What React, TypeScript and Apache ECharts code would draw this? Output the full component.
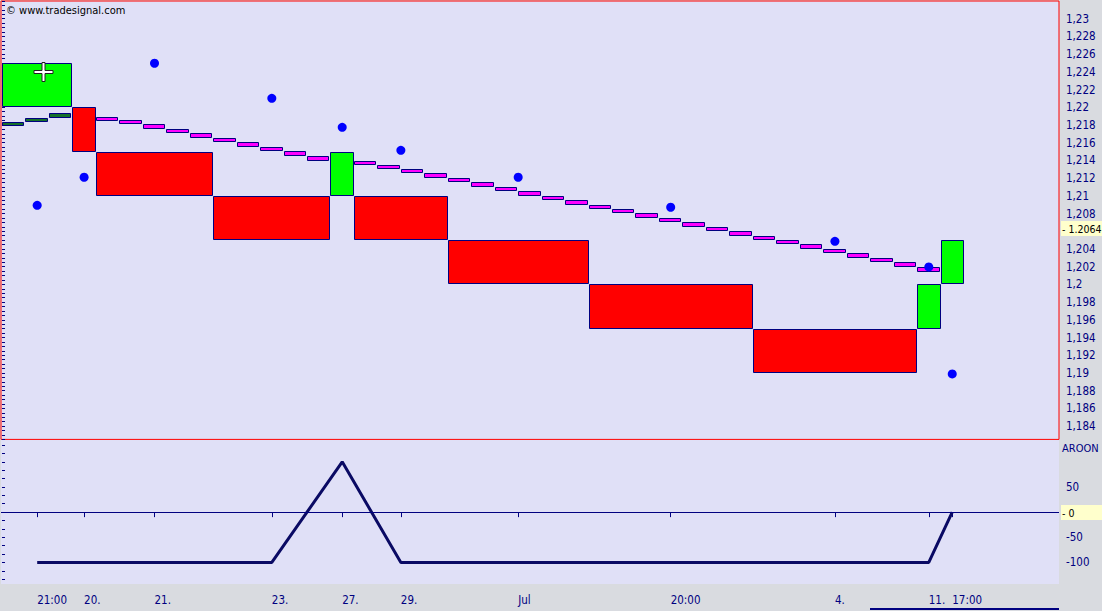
import React, { useEffect, useRef } from "react";
import * as echarts from "echarts";

// ---- Data ----
const renkoStart = [0, 3, 4, 9, 14, 15, 19, 25, 32, 39, 40];
const renkoEnd = [3, 4, 9, 14, 15, 19, 25, 32, 39, 40, 41];
const renkoOpen = [1.22, 1.22, 1.215, 1.21, 1.21, 1.21, 1.205, 1.2, 1.195, 1.195, 1.2];
const renkoClose = [1.225, 1.215, 1.21, 1.205, 1.215, 1.205, 1.2, 1.195, 1.19, 1.2, 1.205];
const dotValues = [1.20893, 1.2121, 1.22497, 1.22101, 1.21774, 1.21514, 1.2121, 1.20871, 1.20487, 1.20197, 1.18989];
const aroonValues = [-100, -100, -100, -100, 100, -100, -100, -100, -100, -100, 0];
const timeLabels = ["21:00", "20.", "21.", "23.", "27.", "29.", "Jul", "20:00", "4.", "11.", "17:00"];
const maStart = 1.21806;
const maValues = [
  1.21845, 1.2189, 1.21943, 1.21902, 1.21864, 1.21819, 1.21763, 1.21718, 1.21661, 1.21616,
  1.2156, 1.21514, 1.21458, 1.21401, 1.214, 1.21356, 1.21311, 1.21266, 1.2121, 1.21164,
  1.21108, 1.21063, 1.21006, 1.20961, 1.20905, 1.2086, 1.20814, 1.20758, 1.20713, 1.20656,
  1.20611, 1.20555, 1.2051, 1.20464, 1.20408, 1.20363, 1.20306, 1.20261, 1.20205, 1.20148,
  1.20106,
];
// 1,206 is hidden behind the current-price marker in the reference
const priceLabels = [
  1.184, 1.186, 1.188, 1.19, 1.192, 1.194, 1.196, 1.198, 1.2, 1.202, 1.204,
  1.208, 1.21, 1.212, 1.214, 1.216, 1.218, 1.22, 1.222, 1.224, 1.226, 1.228, 1.23,
];
// 0 is shown by the current-value marker
const aroonLabels = [-100, -50, 50];
const aroonTicks = [
  -133.33, -116.67, -100, -83.33, -66.67, -50, -33.33, -16.67, 0, 16.67, 33.33, 50,
  66.67, 83.33, 100, 116.67, 133.33,
];
const lastPrice = 1.2064;

// ---- Layout / style ----
const X_MIN = -0.0426;
const X_MAX = 45.05;
const FONT = "'Liberation Sans Narrow', 'DejaVu Sans Condensed', 'Liberation Sans', sans-serif";
const FS = 11.5;
const NAVY = "#000080";
const LAVENDER = "#E0E0F7";
const GRAY = "#D9DBE0";

const centers = renkoStart.map((s, i) => (s + renkoEnd[i]) / 2);

export default function App() {
  const ref = useRef<HTMLDivElement>(null);

  useEffect(() => {
    document.body.style.margin = "0";
    if (!ref.current) return;
    const chart = echarts.init(ref.current, undefined, { renderer: "svg" });

    const maData = maValues.map((v, i) => [i, i === 0 ? maStart : maValues[i - 1], v]);
    const renkoData = renkoStart.map((s, i) => [s, renkoEnd[i], renkoOpen[i], renkoClose[i]]);
    const dotData = centers.map((c, i) => [c, dotValues[i]]);
    const aroonData = centers.map((c, i) => [c, aroonValues[i]]);

    const labelFor = (v: number) => {
      let best = 0;
      let bd = Infinity;
      centers.forEach((c, i) => {
        const d = Math.abs(c - v);
        if (d < bd) {
          bd = d;
          best = i;
        }
      });
      return timeLabels[best];
    };

    const highlight = (text: (v: number) => string) => (params: any, api: any) => {
      const p = api.coord([api.value(0), api.value(1)]);
      const y = Math.round(p[1]);
      return {
        type: "group",
        children: [
          {
            type: "rect",
            shape: { x: Math.round(p[0]) + 2, y: y - 7, width: 44, height: 15 },
            style: { fill: "#FFFFCC" },
          },
          {
            type: "text",
            x: Math.round(p[0]) + 3,
            y: y + 0.5,
            style: {
              text: text(api.value(1)),
              fill: "#000000",
              fontSize: 10.5,
              fontFamily: FONT,
              verticalAlign: "middle",
              align: "left",
            },
          },
        ],
      };
    };

    const option: any = {
      animation: false,
      backgroundColor: GRAY,
      grid: [
        {
          left: 1,
          top: 1,
          width: 1058,
          height: 438.4,
          show: true,
          backgroundColor: LAVENDER,
          borderColor: "#FF0000",
          borderWidth: 1,
        },
        {
          left: 1,
          top: 440,
          width: 1058,
          height: 144,
          show: true,
          backgroundColor: LAVENDER,
          borderWidth: 0,
        },
      ],
      xAxis: [
        {
          type: "value",
          gridIndex: 0,
          min: X_MIN,
          max: X_MAX,
          show: false,
        },
        {
          type: "value",
          gridIndex: 1,
          min: X_MIN,
          max: X_MAX,
          position: "bottom",
          axisLine: { show: false },
          splitLine: { show: false },
          axisTick: {
            show: true,
            customValues: centers,
            length: 5,
            lineStyle: { color: NAVY, width: 1 },
          },
          axisLabel: {
            customValues: centers,
            formatter: (v: number) => labelFor(v),
            color: NAVY,
            fontSize: FS,
            fontFamily: FONT,
            align: "left",
            margin: 10,
          },
        },
      ],
      yAxis: [
        {
          type: "value",
          gridIndex: 0,
          position: "right",
          min: 1.1825,
          max: 1.232,
          interval: 0.0005,
          axisLine: { show: false },
          splitLine: { show: false },
          axisTick: { show: true, length: 3, lineStyle: { color: NAVY, width: 1 } },
          axisLabel: {
            customValues: priceLabels,
            formatter: (v: number) => String(+v.toFixed(3)).replace(".", ","),
            color: NAVY,
            fontSize: FS,
            fontFamily: FONT,
            margin: 7,
          },
        },
        {
          type: "value",
          gridIndex: 1,
          position: "right",
          min: -143,
          max: 143.5,
          axisLine: { show: false },
          splitLine: { show: false },
          axisTick: {
            show: true,
            customValues: aroonTicks,
            length: 3,
            lineStyle: { color: NAVY, width: 1 },
          },
          axisLabel: {
            customValues: aroonLabels,
            formatter: (v: number) => String(v),
            color: NAVY,
            fontSize: FS,
            fontFamily: FONT,
            margin: 7,
          },
        },
      ],
      series: [
        {
          type: "custom",
          xAxisIndex: 0,
          yAxisIndex: 0,
          data: maData,
          renderItem: (params: any, api: any) => {
            const i = api.value(0);
            const prev = api.value(1);
            const cur = api.value(2);
            const p1 = api.coord([i, prev]);
            const p2 = api.coord([i + 1, cur]);
            const x1 = Math.round(p1[0]);
            const x2 = Math.round(p2[0]);
            const top = Math.round(Math.min(p1[1], p2[1])) + 1;
            let bottom = Math.round(Math.max(p1[1], p2[1])) + 1;
            if (bottom - top < 4) bottom = top + 4;
            return {
              type: "rect",
              shape: { x: x1 + 0.5, y: top + 0.5, width: x2 - x1 - 2, height: bottom - top - 1 },
              style: {
                fill: cur > prev ? "#16702A" : "#FF00FF",
                stroke: NAVY,
                lineWidth: 1,
              },
            };
          },
        },
        {
          type: "custom",
          xAxisIndex: 0,
          yAxisIndex: 0,
          data: renkoData,
          renderItem: (params: any, api: any) => {
            const s = api.value(0);
            const e = api.value(1);
            const o = api.value(2);
            const c = api.value(3);
            const p1 = api.coord([s, Math.max(o, c)]);
            const p2 = api.coord([e, Math.min(o, c)]);
            const x1 = Math.round(p1[0]);
            const x2 = Math.round(p2[0]);
            const y1 = Math.round(p1[1]);
            const y2 = Math.round(p2[1]);
            return {
              type: "rect",
              shape: { x: x1 + 0.5, y: y1 + 0.5, width: x2 - x1 - 1, height: y2 - y1 - 1 },
              style: {
                fill: c > o ? "#00FF00" : "#FF0000",
                stroke: NAVY,
                lineWidth: 1,
              },
            };
          },
        },
        {
          type: "scatter",
          xAxisIndex: 0,
          yAxisIndex: 0,
          data: dotData,
          symbol: "circle",
          symbolSize: 9,
          itemStyle: { color: "#0000FF", opacity: 1 },
        },
        {
          type: "custom",
          xAxisIndex: 0,
          yAxisIndex: 0,
          data: [[X_MAX, lastPrice]],
          renderItem: highlight((v) => "- " + v.toFixed(4)),
          z: 10,
        },
        {
          type: "line",
          xAxisIndex: 1,
          yAxisIndex: 1,
          data: aroonData,
          symbol: "none",
          lineStyle: { color: "#0A0A64", width: 3 },
          markLine: {
            silent: true,
            symbol: ["none", "none"],
            label: { show: false },
            lineStyle: { color: NAVY, width: 1, type: "solid" },
            data: [{ yAxis: 0 }],
          },
        },
        {
          type: "custom",
          xAxisIndex: 1,
          yAxisIndex: 1,
          data: [[X_MAX, aroonValues[aroonValues.length - 1]]],
          renderItem: highlight((v) => "- " + String(v)),
          z: 10,
        },
      ],
      graphic: [
        {
          type: "text",
          left: 6,
          top: 5,
          style: {
            text: "© www.tradesignal.com",
            fill: "#000000",
            fontSize: 11,
            fontFamily: FONT,
          },
        },
        {
          type: "text",
          left: 1062,
          top: 443,
          style: {
            text: "AROON",
            fill: NAVY,
            fontSize: 11,
            fontFamily: FONT,
          },
        },
        {
          type: "rect",
          shape: { x: 870, y: 608, width: 189, height: 2 },
          style: { fill: NAVY },
        },
        {
          type: "polygon",
          z: 100,
          shape: {
            points: [
              [42, 62.5], [45, 62.5], [45, 70.5], [53, 70.5], [53, 73.5], [45, 73.5],
              [45, 81.5], [42, 81.5], [42, 73.5], [34, 73.5], [34, 70.5], [42, 70.5],
            ],
          },
          style: { fill: "#FFFFFF", stroke: "#202020", lineWidth: 1 },
        },
      ],
    };

    chart.setOption(option);
    return () => chart.dispose();
  }, []);

  return <div ref={ref} style={{ width: 1102, height: 611 }} />;
}
